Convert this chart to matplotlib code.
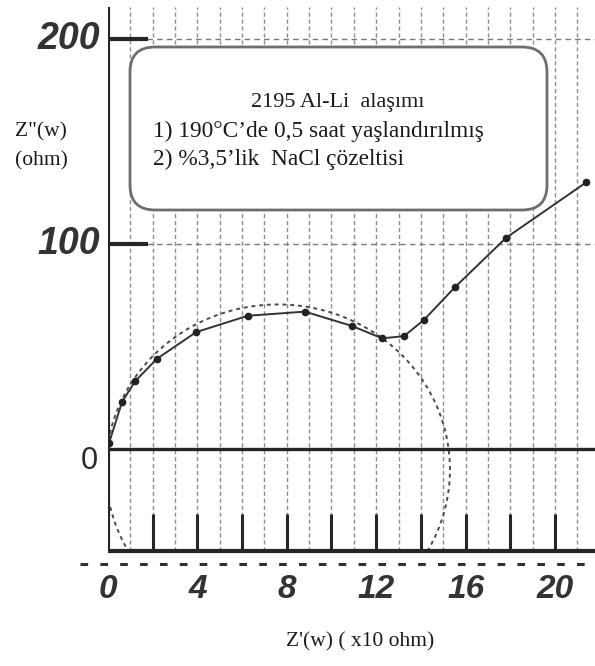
import matplotlib.pyplot as plt
from matplotlib.patches import Ellipse, Rectangle, FancyBboxPatch

# Impedance data: Z' in x10 ohm, Z'' in ohm
z_real = [0.05, 0.63, 1.21, 2.19, 3.94, 6.26, 8.81, 10.92, 12.26, 13.24, 14.14, 15.53, 17.81, 21.39]
z_imag = [3, 23, 33, 44, 57, 65, 67, 60, 54, 55, 63, 79, 103, 130]

# Fitted semicircle (centre, width, height)
circle_center = (7.6, -10)
circle_width = 15.4
circle_height = 161

x_labels = [0, 4, 8, 12, 16, 20]
x_ticks = [2, 4, 6, 8, 10, 12, 14, 16, 18, 20]
y_labels = [100, 200]
x_grid = list(range(1, 22))

box_lines = ["2195 Al-Li  alaşımı",
             "1) 190°C’de 0,5 saat yaşlandırılmış",
             "2) %3,5’lik  NaCl çözeltisi"]

W, H = 595, 666
fig = plt.figure(figsize=(W / 100, H / 100), dpi=100)
fig.patch.set_facecolor('white')

ymin, ymax = -58, 215.6
xmax = 21.79
ax = fig.add_axes([108 / W, (H - 567.9) / H, 487 / W, 560.9 / H])
ax.set_xlim(0, xmax)
ax.set_ylim(ymin, ymax)
ax.axis('off')

ink = '#262626'
grid_c = '#8e8e8e'

# vertical grid
ax.vlines(x_grid, -50, ymax, colors=grid_c, linestyles=(0, (3, 2)), lw=1.0, zorder=1)
# horizontal dashed grid lines
ax.hlines(y_labels, 0, xmax, colors='#7a7a7a', linestyles=(0, (4, 3)), lw=1.0, zorder=1)

# axes lines
ax.vlines(0, -50, ymax, colors=ink, lw=3, zorder=4)
ax.hlines(-50, 0, xmax, colors=ink, lw=3, zorder=4)
ax.hlines(0, 0, xmax, colors=ink, lw=2.4, zorder=4)
ax.plot([-1.25, xmax], [-56, -56], color='#303030', lw=2.2,
        linestyle=(0, (2.5, 4)), clip_on=False, zorder=4)

# ticks
ax.vlines(x_ticks, -50, -31.5, colors=ink, lw=2.2, zorder=4)
ax.hlines(y_labels, 0, 1.8, colors=ink, lw=3, zorder=4)

# fitted circle, clipped at the lower axis
circ = Ellipse(circle_center, circle_width, circle_height, fill=False,
               edgecolor='#4a4a4a', lw=1.4, linestyle=(0, (2, 2)), zorder=3)
ax.add_patch(circ)
circ.set_clip_path(Rectangle((0, -50), xmax, ymax + 50, transform=ax.transData))

# measured data
ax.plot(z_real, z_imag, color='#333333', lw=1.4, marker='o', ms=4.5,
        mfc='#222222', mec='#222222', zorder=5)

num_font = dict(family='Liberation Sans', style='italic', weight='bold', color='#333333')
for v in y_labels:
    ax.text(-0.36, v, str(v), ha='right', va='center', fontsize=27,
            clip_on=False, **num_font)
ax.text(-0.45, -6, '0', ha='right', va='center', fontsize=22,
        family='Liberation Sans', color='#2a2a2a', clip_on=False)
for v in x_labels:
    ax.text(v, -68.5, str(v), ha='center', va='center', fontsize=24,
            clip_on=False, **num_font)

# overlay in pixel coordinates for the caption box and axis titles
ov = fig.add_axes([0, 0, 1, 1])
ov.set_xlim(0, W)
ov.set_ylim(H, 0)
ov.axis('off')
ov.patch.set_alpha(0)

box = FancyBboxPatch((130 + 25, 47 + 25), 417 - 50, 163 - 50,
                     boxstyle='round,pad=25', fc='white', ec='#6e6e6e', lw=2.0)
ov.add_patch(box)

serif = dict(family='Liberation Serif', color='#1a1a1a')
ov.text(338, 102, box_lines[0], ha='center', va='center', fontsize=16, **serif)
ov.text(153, 131, box_lines[1], ha='left', va='center', fontsize=16.8, **serif)
ov.text(153, 159, box_lines[2], ha='left', va='center', fontsize=16.8, **serif)

ov.text(15, 132, 'Z"(w)', ha='left', va='center', fontsize=15.5, **serif)
ov.text(15, 161, '(ohm)', ha='left', va='center', fontsize=15.5, **serif)
ov.text(360, 642, "Z'(w) ( x10 ohm)", ha='center', va='center', fontsize=15.5, **serif)

fig.savefig('out.png', dpi=100)
